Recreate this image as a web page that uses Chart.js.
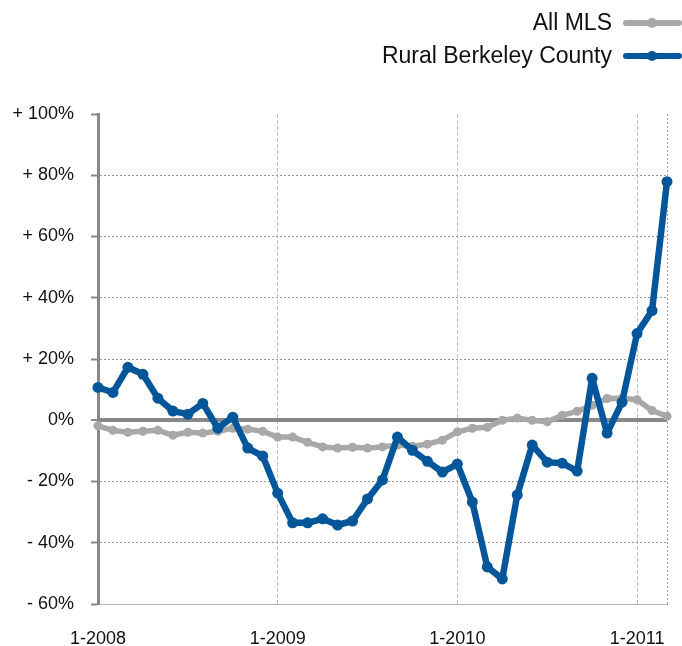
<!DOCTYPE html>
<html>
<head>
<meta charset="utf-8">
<script src="https://cdn.jsdelivr.net/npm/chart.js@4.4.1/dist/chart.umd.min.js"></script>
<style>
  html, body { margin: 0; padding: 0; background: #ffffff; }
  #wrap { width: 682px; height: 646px; position: relative; }
</style>
</head>
<body>
<div id="wrap"><canvas id="c" width="682" height="646"></canvas></div>
<script>
const months = ["1-2008","2-2008","3-2008","4-2008","5-2008","6-2008","7-2008","8-2008","9-2008","10-2008","11-2008","12-2008",
  "1-2009","2-2009","3-2009","4-2009","5-2009","6-2009","7-2009","8-2009","9-2009","10-2009","11-2009","12-2009",
  "1-2010","2-2010","3-2010","4-2010","5-2010","6-2010","7-2010","8-2010","9-2010","10-2010","11-2010","12-2010",
  "1-2011","2-2011","3-2011"];
const xTickLabels = ["1-2008","1-2009","1-2010","1-2011"];
const ruralBerkeley = [10.7, 9.1, 17.3, 15.0, 7.2, 3.0, 2.0, 5.5, -2.6, 1.0, -9.1, -11.7,
  -23.8, -33.5, -33.5, -32.2, -34.2, -32.9, -25.7, -19.5, -5.5, -9.8, -13.4, -16.9,
  -14.3, -26.7, -47.9, -51.8, -24.4, -8.1, -13.7, -14.0, -16.6, 13.7, -4.2, 5.9,
  28.3, 35.8, 77.9];
const allMLS = [-1.8, -3.3, -3.9, -3.6, -3.3, -4.9, -3.9, -4.2, -3.6, -2.6, -2.9, -3.6,
  -5.5, -5.5, -7.2, -8.7, -9.1, -8.8, -9.1, -8.7, -8.1, -8.5, -7.8, -6.5,
  -3.8, -2.6, -2.3, 0.0, 0.7, 0.0, -0.5, 1.6, 2.9, 4.9, 7.1, 7.2,
  6.7, 3.2, 1.3];
const seriesNames = ["All MLS", "Rural Berkeley County"];
const seriesColors = ["#a8a8a8", "#03569a"];
const yMin = -60, yMax = 100, yStep = 20;

const FONT = "'Liberation Sans', Arial, Helvetica, sans-serif";

const legendPlugin = {
  id: 'customLegend',
  afterDraw(chart) {
    const ctx = chart.ctx;
    ctx.save();
    ctx.font = "23px " + FONT;
    ctx.textAlign = 'right';
    ctx.textBaseline = 'middle';
    const rows = [23, 56];
    seriesNames.forEach((name, i) => {
      const y = rows[i];
      ctx.fillStyle = '#111111';
      ctx.fillText(name, 612, y + 1);
      ctx.strokeStyle = seriesColors[i];
      ctx.lineWidth = 6;
      ctx.lineCap = 'round';
      ctx.beginPath();
      ctx.moveTo(626, y);
      ctx.lineTo(679, y);
      ctx.stroke();
      ctx.fillStyle = seriesColors[i];
      ctx.beginPath();
      ctx.arc(652, y, 5, 0, Math.PI * 2);
      ctx.fill();
    });
    ctx.restore();
  }
};

new Chart(document.getElementById('c'), {
  type: 'line',
  data: {
    labels: months,
    datasets: [
      {
        label: seriesNames[1],
        data: ruralBerkeley,
        borderColor: seriesColors[1],
        backgroundColor: seriesColors[1],
        borderWidth: 6.5,
        borderJoinStyle: 'round',
        borderCapStyle: 'round',
        pointRadius: 5.5,
        pointHoverRadius: 5.5,
        pointBorderWidth: 0,
        tension: 0,
        clip: false,
        order: 0
      },
      {
        label: seriesNames[0],
        data: allMLS,
        borderColor: seriesColors[0],
        backgroundColor: seriesColors[0],
        borderWidth: 5.5,
        borderJoinStyle: 'round',
        borderCapStyle: 'round',
        pointRadius: 4.5,
        pointHoverRadius: 4.5,
        pointBorderWidth: 0,
        tension: 0,
        clip: false,
        order: 1
      }
    ]
  },
  options: {
    responsive: false,
    animation: false,
    devicePixelRatio: 1,
    layout: { padding: { top: 114, right: 15, left: 0, bottom: 0 } },
    plugins: {
      legend: { display: false },
      tooltip: { enabled: false }
    },
    scales: {
      x: {
        type: 'category',
        offset: false,
        afterFit(scale) {
          scale.height = 42;
          scale.paddingLeft = 0;
          scale.paddingRight = 0;
        },
        grid: {
          drawTicks: false,
          lineWidth: 1,
          color(ctx) {
            const i = ctx.index;
            if (i === undefined) return 'rgba(0,0,0,0)';
            if (i === months.length - 1) return '#a0a0a0';
            if (i > 0 && xTickLabels.includes(months[i])) return '#c4c4c4';
            return 'rgba(0,0,0,0)';
          }
        },
        border: {
          display: true,
          color: '#b0b0b0',
          width: 1,
          dash(ctx) {
            if (ctx.index === months.length - 1) return [2, 2];
            return [4, 2];
          }
        },
        ticks: {
          autoSkip: false,
          maxRotation: 0,
          minRotation: 0,
          padding: 24,
          color: '#111111',
          font: { family: FONT, size: 18 },
          callback(value, index) {
            const l = months[index];
            return xTickLabels.includes(l) ? l : '';
          }
        }
      },
      y: {
        min: yMin,
        max: yMax,
        afterFit(scale) { scale.width = 98; },
        afterBuildTicks(scale) {
          const t = [];
          for (let v = yMin; v <= yMax; v += yStep) t.push({ value: v });
          scale.ticks = t;
        },
        grid: {
          drawTicks: true,
          tickLength: 7,
          tickWidth: 2,
          tickColor: '#888888',
          lineWidth(ctx) {
            return ctx.tick && ctx.tick.value === 0 ? 4 : 1;
          },
          color(ctx) {
            if (!ctx.tick) return 'rgba(0,0,0,0)';
            const v = ctx.tick.value;
            if (v === 0) return '#888888';
            if (v === yMax || v === yMin) return 'rgba(0,0,0,0)';
            return '#9a9a9a';
          }
        },
        border: {
          display: true,
          color: '#888888',
          width: 3,
          dash(ctx) {
            if (ctx.tick && ctx.tick.value === 0) return [];
            return [2, 2];
          }
        },
        ticks: {
          padding: 17,
          color: '#111111',
          font: { family: FONT, size: 18 },
          callback(v) {
            if (v > 0) return '+ ' + v + '%';
            if (v < 0) return '- ' + (-v) + '%';
            return '0%';
          }
        }
      }
    }
  },
  plugins: [legendPlugin]
});
</script>
</body>
</html>
